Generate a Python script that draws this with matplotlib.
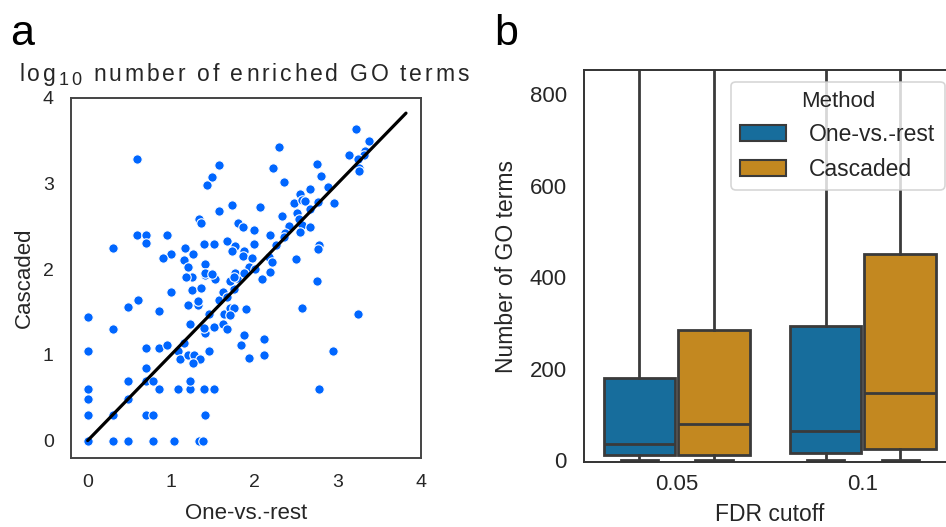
import matplotlib
matplotlib.use("Agg")
import matplotlib.pyplot as plt
import matplotlib.transforms as mtransforms
from matplotlib.patches import Patch
from matplotlib.ft2font import FT2Font
from matplotlib.font_manager import FontProperties, findfont

plt.rcParams['font.family'] = ['Liberation Sans', 'DejaVu Sans']

# ---- panel a: log10 number of enriched GO terms per cell type ----
ovr_log = [
    0.00, 0.30, 0.48, 0.78, 1.04, 1.34, 1.38, 0.00, 0.30, 0.70,
    0.78, 1.41, 0.00, 0.48, 0.00, 0.85, 1.08, 1.23, 1.40, 1.52,
    2.78, 0.48, 0.70, 0.78, 1.23, 0.70, 0.00, 1.08, 1.45, 2.94,
    0.70, 0.85, 0.95, 1.11, 1.20, 1.28, 1.35, 1.26, 1.15, 2.11,
    1.93, 2.12, 1.84, 1.88, 0.30, 0.00, 0.48, 0.60, 0.85, 1.00,
    1.20, 1.32, 1.32, 1.23, 1.41, 1.40, 1.51, 1.62, 1.67, 1.46,
    1.63, 1.71, 1.76, 1.71, 1.90, 1.58, 1.62, 1.67, 1.76, 1.25,
    1.36, 1.25, 1.41, 1.53, 1.71, 1.79, 2.09, 2.57, 3.24, 2.75,
    1.18, 0.59, 0.59, 0.70, 0.70, 0.95, 0.30, 1.00, 0.90, 1.17,
    1.15, 1.20, 2.30, 1.57, 1.49, 1.43, 2.22, 2.36, 1.73, 1.57,
    2.07, 1.33, 1.36, 1.80, 1.86, 2.00, 2.33, 2.48, 2.55, 2.57,
    2.51, 2.53, 2.57, 2.55, 2.41, 2.37, 2.19, 1.67, 1.77, 1.73,
    1.99, 1.87, 1.86, 1.26, 1.39, 1.52, 1.41, 1.41, 1.49, 1.97,
    1.93, 2.17, 2.21, 2.19, 2.26, 2.35, 2.50, 1.77, 1.87, 2.01,
    3.22, 3.38, 3.33, 3.31, 3.14, 3.24, 3.26, 3.26, 2.75, 2.80,
    2.88, 2.67, 2.61, 2.76, 2.95, 2.67, 2.67, 2.77, 2.76, 1.75,
]
cascaded_log = [
    0.00, 0.00, 0.00, 0.00, 0.00, 0.00, 0.00, 0.30, 0.30, 0.30,
    0.30, 0.30, 0.48, 0.48, 0.60, 0.60, 0.60, 0.60, 0.60, 0.60,
    0.60, 0.70, 0.70, 0.70, 0.70, 0.85, 1.04, 1.04, 1.04, 1.04,
    1.08, 1.08, 1.11, 0.95, 1.00, 1.00, 0.95, 0.90, 1.14, 1.00,
    0.96, 1.18, 1.11, 1.23, 1.30, 1.44, 1.56, 1.64, 1.51, 1.73,
    1.58, 1.58, 1.63, 1.36, 1.26, 1.31, 1.33, 1.36, 1.30, 1.48,
    1.48, 1.55, 1.55, 1.46, 1.54, 1.64, 1.73, 1.67, 1.77, 1.76,
    1.78, 1.91, 1.93, 1.89, 1.86, 1.90, 1.89, 1.55, 1.48, 1.86,
    1.91, 3.29, 2.40, 2.40, 2.30, 2.40, 2.25, 2.18, 2.13, 2.25,
    2.11, 2.02, 3.43, 3.21, 3.08, 2.98, 3.18, 3.02, 2.75, 2.68,
    2.73, 2.58, 2.54, 2.54, 2.49, 2.46, 2.62, 2.77, 2.88, 2.81,
    2.65, 2.58, 2.51, 2.43, 2.50, 2.42, 2.40, 2.33, 2.27, 2.21,
    2.29, 2.21, 2.15, 2.18, 2.29, 2.29, 2.06, 1.96, 1.94, 2.13,
    2.02, 2.14, 2.08, 1.97, 2.28, 2.38, 2.12, 1.96, 1.96, 2.00,
    3.64, 3.49, 3.38, 3.33, 3.33, 3.28, 3.18, 3.14, 3.23, 3.09,
    2.96, 2.94, 2.80, 2.78, 2.77, 2.70, 2.49, 2.28, 2.23, 1.91,
]
identity_line = [0.0, 3.82]
scatter_ticks = [0, 1, 2, 3, 4]

# ---- panel b: number of GO terms per FDR cutoff and method ----
fdr_cutoffs = ['0.05', '0.1']
methods = ['One-vs.-rest', 'Cascaded']
ovr_whislo = [0, 0]
ovr_q1 = [11, 16]
ovr_med = [36, 64]
ovr_q3 = [180, 294]
ovr_whishi = [1150, 1600]
cas_whislo = [0, 0]
cas_q1 = [11, 24]
cas_med = [79, 146]
cas_q3 = [284, 450]
cas_whishi = [1500, 2100]
count_ticks = [0, 200, 400, 600, 800]

blue_pt = '#0066ff'
box_colors = ['#176d9c', '#c38820']
line_gray = '#3a3a3a'
text_col = '#262626'
FAMILY = 'Liberation Sans'


def glyph_advances(text, size_pt):
    """Horizontal advance of each character, in points."""
    font = FT2Font(findfont(FontProperties(family=FAMILY)))
    font.set_size(size_pt, 72)
    return [font.load_char(ord(c)).linearHoriAdvance / 65536.0 for c in text]


def tracked_text(fig, x_center, y_base, pieces, tracking, **kw):
    """Draw a line of letter-spaced text centred at (x_center, y_base) in
    figure coordinates.  pieces: list of (string, fontsize, baseline shift)."""
    layout = []
    for s, size, shift in pieces:
        for c, adv in zip(s, glyph_advances(s, size)):
            layout.append((c, size, shift, adv))
    total = sum(a for *_, a in layout) + tracking * (len(layout) - 1)
    pos = -total / 2.0
    for c, size, shift, adv in layout:
        tr = mtransforms.offset_copy(fig.transFigure, fig=fig, x=pos,
                                     y=shift, units='points')
        fig.text(x_center, y_base, c, fontsize=size, family=FAMILY,
                 transform=tr, ha='left', va='baseline', **kw)
        pos += adv + tracking


fig = plt.figure(figsize=(9.46, 5.27), dpi=100)

# ---------------- panel a ----------------
ax1 = fig.add_axes([71 / 946, 1 - 457.7 / 527, 350 / 946, 360 / 527])
ax1.scatter(ovr_log, cascaded_log, s=46, color=blue_pt, edgecolor='white',
            linewidth=0.8, zorder=2)
ax1.plot(identity_line, identity_line, color='black', lw=2.3, zorder=3,
         solid_capstyle='round')
ax1.set_xlim(-0.2, 4.0)
ax1.set_ylim(-0.2, 4.0)
ax1.set_xticks(scatter_ticks)
ax1.set_yticks(scatter_ticks)
ax1.tick_params(length=0, labelsize=14, labelcolor=text_col)
ax1.tick_params(axis='x', pad=11.5)
ax1.tick_params(axis='y', pad=12.5)
ax1.set_xlabel('One-vs.-rest', fontsize=16, color=text_col)
ax1.set_ylabel('Cascaded', fontsize=16, color=text_col)
ax1.xaxis.set_label_coords(0.5, -0.125)
ax1.yaxis.set_label_coords(-0.103, 0.5)
for sp in ax1.spines.values():
    sp.set_color('#444444')
    sp.set_linewidth(1.4)

tracked_text(fig, 244 / 946, 1 - 81 / 527,
             [('log', 16.5, 0), ('10', 13, -3), (' number of enriched GO terms', 16.5, 0)],
             tracking=2.0, color=text_col)

# ---------------- panel b ----------------
ax2 = fig.add_axes([583.5 / 946, 1 - 462 / 527, 372.5 / 946, 391.7 / 527])
offsets = [-0.2, 0.2]
series = [
    (ovr_whislo, ovr_q1, ovr_med, ovr_q3, ovr_whishi),
    (cas_whislo, cas_q1, cas_med, cas_q3, cas_whishi),
]
for m, (lo, q1, med, q3, hi) in enumerate(series):
    stats = []
    for i in range(len(fdr_cutoffs)):
        stats.append(dict(whislo=lo[i], q1=q1[i], med=med[i], q3=q3[i],
                          whishi=hi[i], fliers=[]))
    positions = [i + offsets[m] for i in range(len(fdr_cutoffs))]
    ax2.bxp(stats, positions=positions, widths=0.385, capwidths=0.2,
            patch_artist=True, showfliers=False, manage_ticks=False,
            boxprops=dict(facecolor=box_colors[m], edgecolor=line_gray,
                          linewidth=2.0),
            medianprops=dict(color=line_gray, linewidth=2.0),
            whiskerprops=dict(color=line_gray, linewidth=2.0),
            capprops=dict(color=line_gray, linewidth=2.0))

ax2.set_xlim(-0.5, 1.5)
ax2.set_ylim(-4, 852)
ax2.set_xticks(range(len(fdr_cutoffs)))
ax2.set_xticklabels(fdr_cutoffs)
ax2.set_yticks(count_ticks)
ax2.tick_params(length=0, labelsize=16, labelcolor=text_col)
ax2.tick_params(axis='x', pad=9)
ax2.tick_params(axis='y', pad=12)
ax2.set_xlabel('FDR cutoff', fontsize=16.5, color=text_col)
ax2.set_ylabel('Number of GO terms', fontsize=16.5, color=text_col)
ax2.xaxis.set_label_coords(0.5, -0.105)
ax2.yaxis.set_label_coords(-0.176, 0.5)
for sp in ax2.spines.values():
    sp.set_color('#333333')
    sp.set_linewidth(1.4)

handles = [Patch(facecolor=box_colors[k], edgecolor=line_gray, linewidth=1.5,
                 label=methods[k]) for k in range(len(methods))]
leg = ax2.legend(handles=handles, title='Method', loc='upper right',
                 fontsize=16.5, title_fontsize=16, frameon=True,
                 handletextpad=1.0)
leg.get_frame().set_edgecolor('#cccccc')
leg.get_frame().set_linewidth(1.2)
leg.get_title().set_color(text_col)
for t in leg.get_texts():
    t.set_color(text_col)

# panel letters
fig.text(10 / 946, 1 - 45 / 527, 'a', fontsize=31, va='baseline', ha='left')
fig.text(494 / 946, 1 - 45 / 527, 'b', fontsize=31, va='baseline', ha='left')

fig.savefig('out.png', dpi=100)
